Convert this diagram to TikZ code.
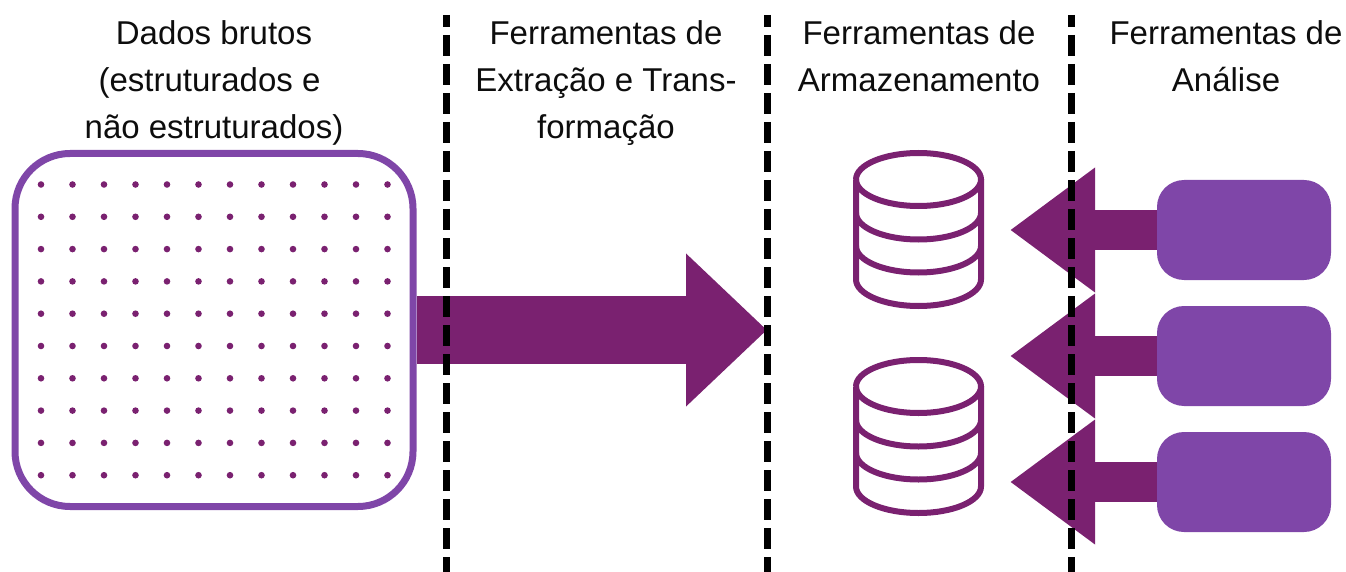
\documentclass[tikz,border=0pt]{standalone}
\usepackage{fontspec}
\setmainfont{Liberation Sans}
\usetikzlibrary{arrows.meta}
\definecolor{darkp}{HTML}{7A2170}
\definecolor{lightp}{HTML}{7F46A8}
\tikzset{
  x=1pt,y=-1pt,
  label text/.style={inner sep=0pt,align=center,anchor=north,font=\fontsize{33}{47}\selectfont,text=black!95},
  raw box/.style={draw=lightp,line width=7pt,rounded corners=55pt,minimum width=398pt,minimum height=353pt,inner sep=0pt},
  tool box/.style={fill=lightp,rounded corners=27pt,minimum width=174pt,minimum height=100pt,inner sep=0pt},
  big arrow/.style={draw=darkp,line width=68pt,-{Triangle[length=81pt,width=148pt]}},
  small arrow/.style={draw=darkp,line width=40pt,-{Triangle[length=85pt,width=119pt]}},
  divider/.style={line width=7pt,draw=black,dash pattern=on 21pt off 8pt,dash phase=9pt},
  db line/.style={draw=darkp,line width=6pt},
}
\newcommand{\dbcyl}[1]{%
  \draw[db line] (#1) ++(-62.5,0) arc[start angle=180,end angle=540,x radius=62.5pt,y radius=26.5pt];
  \draw[db line,line join=round] (#1) ++(-62.5,0) -- ++(0,100) arc[start angle=180,end angle=360,x radius=62.5pt,y radius=26.5pt] -- ++(0,-100);
  \draw[db line] (#1) ++(-62.5,33.5) arc[start angle=180,end angle=360,x radius=62.5pt,y radius=26.5pt];
  \draw[db line] (#1) ++(-62.5,66.5) arc[start angle=180,end angle=360,x radius=62.5pt,y radius=26.5pt];
}
\begin{document}
\begin{tikzpicture}
\useasboundingbox (0,0) rectangle (1346,572);
% labels
\node[label text] (t1) at (214,20) {Dados brutos\\(estruturados e\hbox to 9pt{}\\não estruturados)};
\node[label text] (t2) at (606,20) {Ferramentas de\\Extração e Trans-\\formação};
\node[label text] (t3) at (919,20) {Ferramentas de\\Armazenamento};
\node[label text] (t4) at (1226,20) {Ferramentas de\\Análise};
% raw data box
\node[raw box] (raw) at (214,330) {};
\foreach \c in {0,...,11}{\foreach \r in {0,...,9}{
  \fill[darkp] (41+\c*31.5,184.5+\r*32.3) circle[radius=3.3pt];
}}
% databases
\coordinate (db1) at (918.5,179.5);
\coordinate (db2) at (918.5,386.5);
\dbcyl{db1}
\dbcyl{db2}
% arrows
\coordinate (bigtip) at (767,330);
\draw[big arrow] (raw.east) -- (bigtip);
\node[tool box] (a1) at (1244,230) {};
\node[tool box] (a2) at (1244,356) {};
\node[tool box] (a3) at (1244,482) {};
\coordinate (tip1) at (1010,230);
\coordinate (tip2) at (1010,356);
\coordinate (tip3) at (1010,482);
\draw[small arrow] (a1.west) -- (tip1);
\draw[small arrow] (a2.west) -- (tip2);
\draw[small arrow] (a3.west) -- (tip3);
% dividers
\coordinate (d1a) at (446,15); \coordinate (d1b) at (446,572);
\coordinate (d2a) at (767,15); \coordinate (d2b) at (767,572);
\coordinate (d3a) at (1071,15); \coordinate (d3b) at (1071,572);
\draw[divider] (d1a) -- (d1b);
\draw[divider] (d2a) -- (d2b);
\draw[divider] (d3a) -- (d3b);
\end{tikzpicture}
\end{document}
